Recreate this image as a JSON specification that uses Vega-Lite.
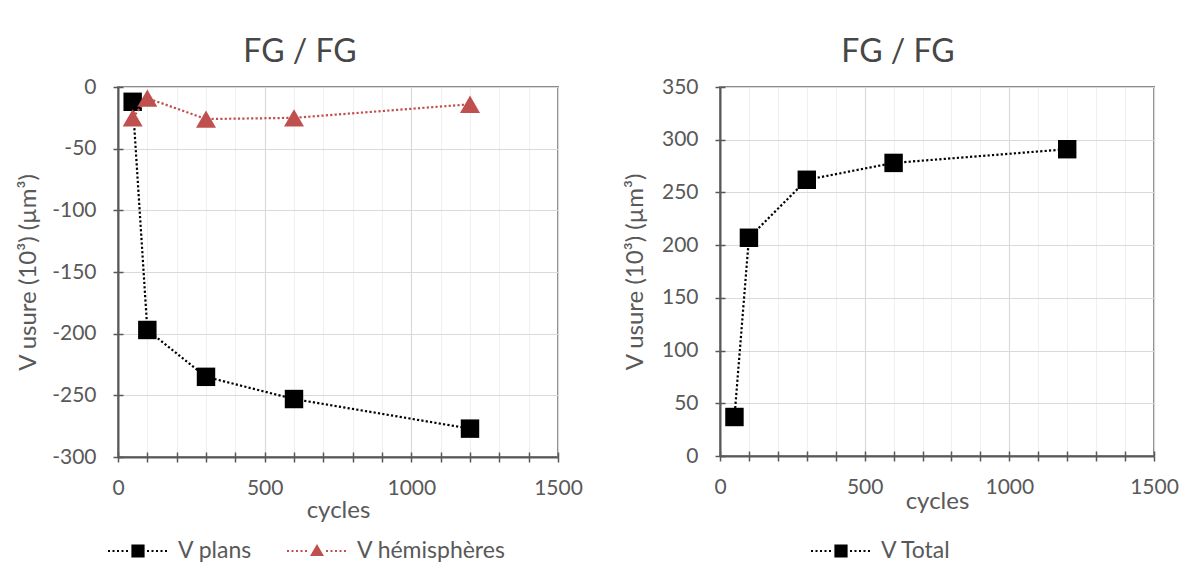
{
  "$schema": "https://vega.github.io/schema/vega-lite/v6.json",
  "padding": {"left": 15, "top": 35, "right": 0, "bottom": 0},
  "background": "#ffffff",
  "bounds": "full",
  "align": "none",
  "spacing": 38,
  "resolve": {"scale": {"color": "independent", "shape": "independent"}, "legend": {"color": "independent", "shape": "independent"}},
  "datasets": {
    "wear": [
      {"cycles": 50, "serie": "V plans", "v": -12},
      {"cycles": 100, "serie": "V plans", "v": -197},
      {"cycles": 300, "serie": "V plans", "v": -235},
      {"cycles": 600, "serie": "V plans", "v": -253},
      {"cycles": 1200, "serie": "V plans", "v": -277},
      {"cycles": 50, "serie": "V hémisphères", "v": -25},
      {"cycles": 100, "serie": "V hémisphères", "v": -9},
      {"cycles": 300, "serie": "V hémisphères", "v": -26},
      {"cycles": 600, "serie": "V hémisphères", "v": -25},
      {"cycles": 1200, "serie": "V hémisphères", "v": -14}
    ],
    "total": [
      {"cycles": 50, "serie": "V Total", "v": 37},
      {"cycles": 100, "serie": "V Total", "v": 207},
      {"cycles": 300, "serie": "V Total", "v": 262},
      {"cycles": 600, "serie": "V Total", "v": 278},
      {"cycles": 1200, "serie": "V Total", "v": 291}
    ]
  },
  "hconcat": [
    {
      "width": 440,
      "height": 370,
      "title": {"text": "FG / FG", "dx": -38, "offset": 7},
      "data": {"name": "wear"},
      "layer": [
        {
          "transform": [{"filter": "datum.serie === 'V plans'"}],
          "mark": {"type": "line", "strokeDash": [2.2, 2.2], "strokeWidth": 2.2, "color": "#000000"},
          "encoding": {
            "x": {
              "field": "cycles", "type": "quantitative",
              "scale": {"domain": [0, 1500], "nice": false, "zero": false},
              "axis": {
                "values": [0, 100, 200, 300, 400, 500, 600, 700, 800, 900, 1000, 1100, 1200, 1300, 1400, 1500],
                "labelExpr": "datum.value % 500 === 0 ? '' + datum.value : ''",
                "labelFlush": false, "labelOverlap": false,
                "gridColor": {"condition": {"test": "datum.value % 500 === 0", "value": "#d9d9d9"}, "value": "#f0f0f0"},
                "title": "cycles", "titlePadding": 0
              }
            },
            "y": {
              "field": "v", "type": "quantitative",
              "scale": {"domain": [-300, 0], "nice": false, "zero": false},
              "axis": {
                "values": [-300, -250, -200, -150, -100, -50, 0],
                "labelExpr": "'' + datum.value",
                "title": "V usure (10³) (µm³)", "titlePadding": 11, "labelPadding": 17
              }
            }
          }
        },
        {
          "transform": [{"filter": "datum.serie === 'V plans'"}],
          "mark": {"type": "point", "shape": "square", "filled": true, "size": 340, "color": "#000000", "opacity": 1},
          "encoding": {
            "x": {"field": "cycles", "type": "quantitative",
              "axis": {"orient": "bottom", "values": [0, 100, 200, 300, 400, 500, 600, 700, 800, 900, 1000, 1100, 1200, 1300, 1400, 1500], "labels": false, "domain": false, "grid": false, "title": null, "offset": -5}},
            "y": {"field": "v", "type": "quantitative",
              "axis": {"orient": "left", "values": [-300, -250, -200, -150, -100, -50, 0], "labels": false, "domain": false, "grid": false, "title": null, "offset": -5}}
          }
        },
        {
          "transform": [{"filter": "datum.serie === 'V hémisphères'"}],
          "mark": {"type": "line", "strokeDash": [2.2, 2.2], "strokeWidth": 2.2, "color": "#c0504d"},
          "encoding": {
            "x": {"field": "cycles", "type": "quantitative", "axis": null},
            "y": {"field": "v", "type": "quantitative", "axis": null}
          }
        },
        {
          "transform": [{"filter": "datum.serie === 'V hémisphères'"}],
          "mark": {"type": "point", "shape": "triangle-up", "filled": true, "size": 400, "color": "#c0504d", "opacity": 1},
          "encoding": {
            "x": {"field": "cycles", "type": "quantitative", "axis": null},
            "y": {"field": "v", "type": "quantitative", "axis": null}
          }
        },
        {
          "mark": {"type": "point", "filled": true, "opacity": 0},
          "encoding": {
            "x": {"field": "cycles", "type": "quantitative", "axis": null},
            "y": {"field": "v", "type": "quantitative", "axis": null},
            "color": {
              "field": "serie", "type": "nominal",
              "scale": {"domain": ["V plans", "V hémisphères"], "range": ["#000000", "#c0504d"]},
              "legend": {"orient": "none", "legendX": -10, "legendY": 434, "direction": "horizontal", "title": null, "symbolSize": 3600, "symbolOpacity": 1, "symbolStrokeWidth": 0, "columnPadding": 34}
            },
            "shape": {
              "field": "serie", "type": "nominal",
              "scale": {"domain": ["V plans", "V hémisphères"], "range": [
                "M-1,-0.035h0.067v0.07h-0.067zM-0.85,-0.035h0.067v0.07h-0.067zM-0.7,-0.035h0.067v0.07h-0.067zM-0.55,-0.035h0.067v0.07h-0.067zM-0.4,-0.035h0.067v0.07h-0.067zM-0.22,-0.22h0.44v0.44h-0.44zM0.3,-0.035h0.067v0.07h-0.067zM0.45,-0.035h0.067v0.07h-0.067zM0.6,-0.035h0.067v0.07h-0.067zM0.75,-0.035h0.067v0.07h-0.067zM0.9,-0.035h0.067v0.07h-0.067z",
                "M-1,-0.035h0.067v0.07h-0.067zM-0.85,-0.035h0.067v0.07h-0.067zM-0.7,-0.035h0.067v0.07h-0.067zM-0.55,-0.035h0.067v0.07h-0.067zM-0.4,-0.035h0.067v0.07h-0.067zM0,-0.233L0.233,0.167L-0.233,0.167zM0.3,-0.035h0.067v0.07h-0.067zM0.45,-0.035h0.067v0.07h-0.067zM0.6,-0.035h0.067v0.07h-0.067zM0.75,-0.035h0.067v0.07h-0.067zM0.9,-0.035h0.067v0.07h-0.067z"
              ]},
              "legend": {"orient": "none", "legendX": -10, "legendY": 434, "direction": "horizontal", "title": null, "symbolSize": 3600, "symbolOpacity": 1, "symbolStrokeWidth": 0, "columnPadding": 34}
            }
          }
        }
      ],
      "resolve": {"axis": {"x": "independent", "y": "independent"}}
    },
    {
      "width": 434,
      "height": 369,
      "title": {"text": "FG / FG", "dx": -39, "offset": 7},
      "data": {"name": "total"},
      "layer": [
        {
          "mark": {"type": "line", "strokeDash": [2.2, 2.2], "strokeWidth": 2.2, "color": "#000000"},
          "encoding": {
            "x": {
              "field": "cycles", "type": "quantitative",
              "scale": {"domain": [0, 1500], "nice": false, "zero": false},
              "axis": {
                "values": [0, 100, 200, 300, 400, 500, 600, 700, 800, 900, 1000, 1100, 1200, 1300, 1400, 1500],
                "labelExpr": "datum.value % 500 === 0 ? '' + datum.value : ''",
                "labelFlush": false, "labelOverlap": false,
                "gridColor": {"condition": {"test": "datum.value % 500 === 0", "value": "#d9d9d9"}, "value": "#f0f0f0"},
                "title": "cycles", "titlePadding": -8
              }
            },
            "y": {
              "field": "v", "type": "quantitative",
              "scale": {"domain": [0, 350], "nice": false, "zero": false},
              "axis": {
                "values": [0, 50, 100, 150, 200, 250, 300, 350],
                "labelExpr": "'' + datum.value",
                "title": "V usure (10³) (µm³)", "titlePadding": 14, "labelPadding": 17
              }
            }
          }
        },
        {
          "mark": {"type": "point", "shape": "square", "filled": true, "size": 340, "color": "#000000", "opacity": 1},
          "encoding": {
            "x": {"field": "cycles", "type": "quantitative",
              "axis": {"orient": "bottom", "values": [0, 100, 200, 300, 400, 500, 600, 700, 800, 900, 1000, 1100, 1200, 1300, 1400, 1500], "labels": false, "domain": false, "grid": false, "title": null, "offset": -5}},
            "y": {"field": "v", "type": "quantitative",
              "axis": {"orient": "left", "values": [0, 50, 100, 150, 200, 250, 300, 350], "labels": false, "domain": false, "grid": false, "title": null, "offset": -5}}
          }
        },
        {
          "mark": {"type": "point", "filled": true, "opacity": 0},
          "encoding": {
            "x": {"field": "cycles", "type": "quantitative", "axis": null},
            "y": {"field": "v", "type": "quantitative", "axis": null},
            "color": {
              "field": "serie", "type": "nominal",
              "scale": {"domain": ["V Total"], "range": ["#000000"]},
              "legend": {"orient": "none", "legendX": 91, "legendY": 434, "direction": "horizontal", "title": null, "symbolSize": 3600, "symbolOpacity": 1, "symbolStrokeWidth": 0}
            },
            "shape": {
              "field": "serie", "type": "nominal",
              "scale": {"domain": ["V Total"], "range": [
                "M-1,-0.035h0.067v0.07h-0.067zM-0.85,-0.035h0.067v0.07h-0.067zM-0.7,-0.035h0.067v0.07h-0.067zM-0.55,-0.035h0.067v0.07h-0.067zM-0.4,-0.035h0.067v0.07h-0.067zM-0.22,-0.22h0.44v0.44h-0.44zM0.3,-0.035h0.067v0.07h-0.067zM0.45,-0.035h0.067v0.07h-0.067zM0.6,-0.035h0.067v0.07h-0.067zM0.75,-0.035h0.067v0.07h-0.067zM0.9,-0.035h0.067v0.07h-0.067z"
              ]},
              "legend": {"orient": "none", "legendX": 91, "legendY": 434, "direction": "horizontal", "title": null, "symbolSize": 3600, "symbolOpacity": 1, "symbolStrokeWidth": 0}
            }
          }
        }
      ],
      "resolve": {"axis": {"x": "independent", "y": "independent"}}
    }
  ],
  "config": {
    "view": {"stroke": "#8c8c8c", "strokeWidth": 2},
    "font": "Lato",
    "title": {"font": "Lato", "fontSize": 32, "fontWeight": "normal", "color": "#474747", "anchor": "middle", "baseline": "bottom"},
    "axis": {
      "labelFont": "Lato", "labelFontSize": 21, "labelColor": "#595959", "labelPadding": 15,
      "titleFont": "Lato", "titleFontSize": 24, "titleFontWeight": "normal", "titleColor": "#595959",
      "tickColor": "#595959", "tickWidth": 1.5, "tickSize": 5,
      "domainColor": "#595959", "domainWidth": 2,
      "gridColor": "#d9d9d9", "gridWidth": 1.2
    },
    "legend": {
      "labelFont": "Lato", "labelFontSize": 23, "labelColor": "#595959", "labelOffset": 10, "padding": 0
    }
  }
}
